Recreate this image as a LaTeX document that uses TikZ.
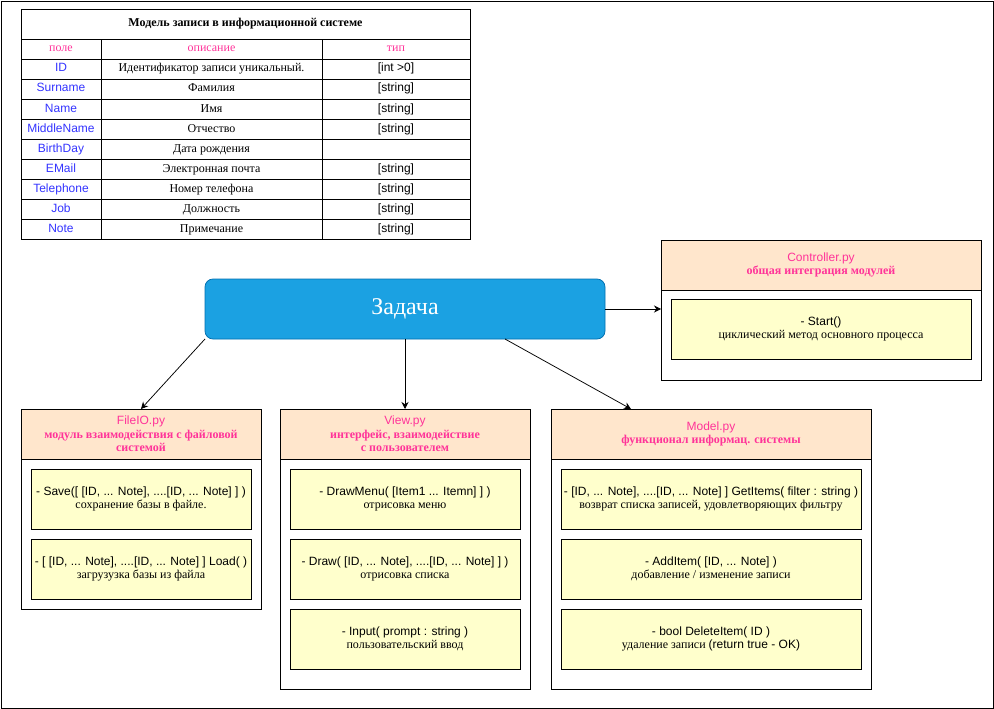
\documentclass[tikz,border=0pt]{standalone}
\usepackage{fontspec}
\setmainfont{Liberation Serif}
\setsansfont{Liberation Sans}
\usetikzlibrary{positioning,arrows.meta}

\definecolor{fieldblue}{HTML}{3333FF}
\definecolor{modpink}{HTML}{FF3399}
\definecolor{headfill}{HTML}{FFE6CC}
\definecolor{methfill}{HTML}{FFFFCC}
\definecolor{taskfill}{HTML}{1BA1E2}
\definecolor{taskline}{HTML}{006EAF}

\newcommand{\fieldrow}[5]{%
 \node[cell,minimum width=80pt] ({#1f}) at (61,{#2}) {\sffamily\color{fieldblue}#3};%
 \node[cell,minimum width=221pt] ({#1d}) at (211.5,{#2}) {#4};%
 \node[cell,minimum width=148pt] ({#1t}) at (396,{#2}) {\sffamily #5};%
}
\newcommand{\pymodule}[6]{%
 \node[modhead,minimum width={#3}] ({#1}) at ({#2}) {{\sffamily\mdseries #5}\\#6};%
 \node[modbody,minimum width={#3},minimum height={#4},below=0pt of {#1}] ({#1body}) {};%
}
\newcommand{\method}[5]{%
 \node[methodbox,minimum width={#3}] ({#1}) at ({#2}) {{\sffamily #4}\\#5};%
}

\begin{document}
\begin{tikzpicture}[x=1pt,y=-1pt,>={Stealth[length=7pt,width=7pt]},
  every node/.style={inner sep=0pt,outer sep=0pt,line width=0.75pt,font=\fontsize{12}{13.5}\selectfont},
  cell/.style={draw,minimum height=20pt,text height=8.5pt,text depth=2.5pt},
  modhead/.style={draw,fill=headfill,text=modpink,align=center,minimum height=50pt,font=\fontsize{12}{13.5}\selectfont\bfseries},
  modbody/.style={draw},
  methodbox/.style={draw,fill=methfill,align=center,minimum height=60pt}]
 \useasboundingbox (0,0) rectangle (994,709);
 \draw[line width=0.75pt] (1,1) rectangle (993,708);

 \node[cell,minimum width=449pt,minimum height=30pt,font=\fontsize{12}{13.5}\selectfont\bfseries] (title) at (245.5,24) {Модель записи в информационной системе};
 \node[cell,minimum width=80pt,text=modpink] (headf) at (61,49) {поле};
 \node[cell,minimum width=221pt,text=modpink] (headd) at (211.5,49) {описание};
 \node[cell,minimum width=148pt,text=modpink] (headt) at (396,49) {тип};
 \fieldrow{id}{69}{ID}{Идентификатор записи уникальный.}{[int >0]}
 \fieldrow{surname}{89}{Surname}{Фамилия}{[string]}
 \fieldrow{name}{109}{Name}{Имя}{[string]}
 \fieldrow{middle}{129}{MiddleName}{Отчество}{[string]}
 \fieldrow{birth}{149}{BirthDay}{Дата рождения}{}
 \fieldrow{email}{169}{EMail}{Электронная почта}{[string]}
 \fieldrow{phone}{189}{Telephone}{Номер телефона}{[string]}
 \fieldrow{job}{209}{Job}{Должность}{[string]}
 \fieldrow{note}{229}{Note}{Примечание}{[string]}

 \node[draw=taskline,fill=taskfill,rounded corners=8pt,minimum width=400pt,minimum height=60pt,text=white,font=\fontsize{24}{28}\selectfont] (task) at (405,309) {Задача};

 \pymodule{ctrl}{821,265}{320pt}{90pt}{Controller.py}{общая интеграция модулей}
 \method{start}{821,329}{300pt}{- Start()}{циклический метод основного процесса}

 \pymodule{fileio}{141,434}{240pt}{150pt}{FileIO.py}{модуль взаимодействия с файловой\\системой}
 \method{save}{141,499}{220pt}{- Save([ [ID, ... Note], ....[ID, ... Note] ] )}{сохранение базы в файле.}
 \method{load}{141,569}{220pt}{- [ [ID, ... Note], ....[ID, ... Note] ] Load( )}{загрузузка базы из файла}

 \pymodule{view}{405,434}{250pt}{230pt}{View.py}{интерфейс, взаимодействие\\с пользователем}
 \method{drawmenu}{405,499}{230pt}{- DrawMenu( [Item1 ... Itemn] ] )}{отрисовка меню}
 \method{drawlist}{405,569}{230pt}{- Draw( [ID, ... Note], ....[ID, ... Note] ] )}{отрисовка списка}
 \method{input}{405,639}{230pt}{- Input( prompt : string )}{пользовательский ввод}

 \pymodule{model}{711,434}{320pt}{230pt}{Model.py}{функционал информац. системы}
 \method{getitems}{711,499}{300pt}{- [ID, ... Note], ....[ID, ... Note] ] GetItems( filter : string )}{возврат списка записей, удовлетворяющих фильтру}
 \method{additem}{711,569}{300pt}{- AddItem( [ID, ... Note] )}{добавление / изменение записи}
 \method{delitem}{711,639}{300pt}{- bool DeleteItem( ID )}{удаление записи \textsf{(return true - OK)}}

 \path[->,line width=0.75pt] (task.south west) edge (fileio.north);
 \path[->,line width=0.75pt] (task.south) edge (view.north);
 \path[->,line width=0.75pt] ([xshift=100pt]task.south) edge ([xshift=-80pt]model.north);
 \path[->,line width=0.75pt] (task.east) edge (task.east -| ctrlbody.west);
\end{tikzpicture}
\end{document}
